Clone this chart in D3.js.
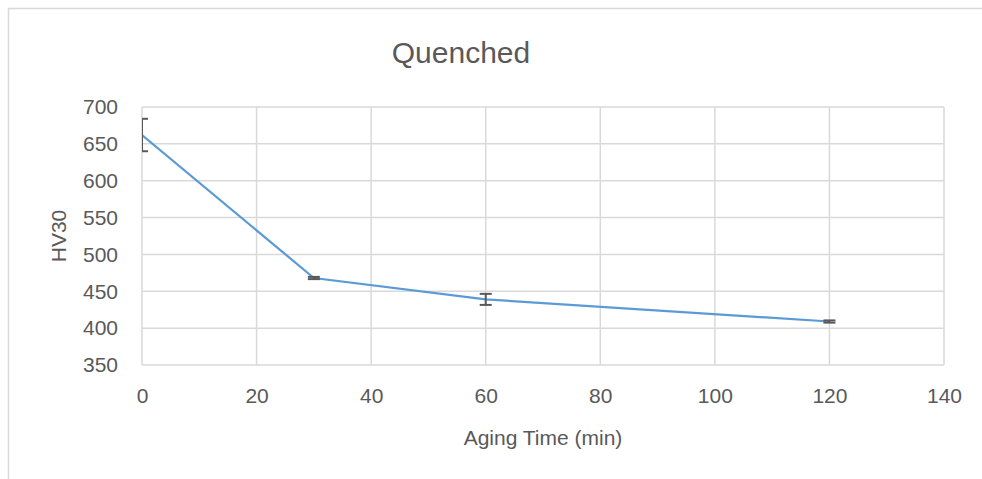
<!DOCTYPE html>
<html>
<head>
<meta charset="utf-8">
<script src="https://cdn.jsdelivr.net/npm/d3@7"></script>
<style>
  html, body { margin: 0; padding: 0; background: #fff; }
  svg { display: block; }
  text { font-family: "Liberation Sans", Arial, sans-serif; fill: #595959; }
</style>
</head>
<body>
<svg id="chart" width="982" height="479"></svg>
<script>
const title = "Quenched";
const xLabel = "Aging Time (min)";
const yLabel = "HV30";
const agingTime = [0, 30, 60, 120];
const hardness = [662, 468, 439, 409];
const errorPlusMinus = [22, 1.5, 7.5, 1.5];
const xTicks = [0, 20, 40, 60, 80, 100, 120, 140];
const yTicks = [350, 400, 450, 500, 550, 600, 650, 700];

const svg = d3.select("#chart");
const W = 982, H = 479;
const plot = { left: 142, right: 944, top: 107, bottom: 365 };

// outer chart border (continues beyond the visible frame)
svg.append("rect")
  .attr("x", 8.5).attr("y", 8.5)
  .attr("width", W + 10).attr("height", H + 10)
  .attr("fill", "#fff").attr("stroke", "#d9d9d9").attr("stroke-width", 1.5);

const x = d3.scaleLinear().domain([0, 140]).range([plot.left, plot.right]);
const y = d3.scaleLinear().domain([350, 700]).range([plot.bottom, plot.top]);

// gridlines
const g = svg.append("g");
g.selectAll("line.hg").data(yTicks).enter().append("line")
  .attr("x1", plot.left).attr("x2", plot.right)
  .attr("y1", d => y(d)).attr("y2", d => y(d))
  .attr("stroke", "#d9d9d9").attr("stroke-width", 1.5);
g.selectAll("line.vg").data(xTicks).enter().append("line")
  .attr("y1", plot.top).attr("y2", plot.bottom)
  .attr("x1", d => x(d)).attr("x2", d => x(d))
  .attr("stroke", "#d9d9d9").attr("stroke-width", 1.5);

// axes via d3 axes (labels only)
const yAxis = svg.append("g")
  .attr("transform", `translate(${plot.left - 24},0)`)
  .call(d3.axisLeft(y).tickValues(yTicks).tickSize(0).tickPadding(0));
yAxis.select(".domain").remove();
yAxis.selectAll("text")
  .style("font-family", '"Liberation Sans", Arial, sans-serif')
  .style("font-size", "21px").attr("fill", "#595959");

const xAxis = svg.append("g")
  .attr("transform", `translate(0,${plot.bottom + 23})`)
  .call(d3.axisBottom(x).tickValues(xTicks).tickSize(0).tickPadding(0));
xAxis.select(".domain").remove();
xAxis.selectAll("text")
  .style("font-family", '"Liberation Sans", Arial, sans-serif')
  .style("font-size", "21px").attr("fill", "#595959");

// clip for data
svg.append("clipPath").attr("id", "clip")
  .append("rect").attr("x", plot.left).attr("y", plot.top - 20)
  .attr("width", plot.right - plot.left + 20).attr("height", plot.bottom - plot.top + 40);

const data = agingTime.map((t, i) => ({ t, v: hardness[i], e: errorPlusMinus[i] }));
const dg = svg.append("g").attr("clip-path", "url(#clip)");

// series line
dg.append("path")
  .datum(data)
  .attr("fill", "none")
  .attr("stroke", "#5b9bd5")
  .attr("stroke-width", 2.2)
  .attr("d", d3.line().x(d => x(d.t)).y(d => y(d.v)));

// error bars
const eb = dg.selectAll("g.eb").data(data).enter().append("g");
const cap = 6;
eb.append("line")
  .attr("x1", d => x(d.t)).attr("x2", d => x(d.t))
  .attr("y1", d => y(d.v + d.e)).attr("y2", d => y(d.v - d.e))
  .attr("stroke", "#595959").attr("stroke-width", 2);
eb.append("line")
  .attr("x1", d => x(d.t) - cap).attr("x2", d => x(d.t) + cap)
  .attr("y1", d => y(d.v + d.e)).attr("y2", d => y(d.v + d.e))
  .attr("stroke", "#595959").attr("stroke-width", 2);
eb.append("line")
  .attr("x1", d => x(d.t) - cap).attr("x2", d => x(d.t) + cap)
  .attr("y1", d => y(d.v - d.e)).attr("y2", d => y(d.v - d.e))
  .attr("stroke", "#595959").attr("stroke-width", 2);

// title
svg.append("text")
  .attr("x", 461).attr("y", 63)
  .attr("text-anchor", "middle")
  .style("font-size", "30px")
  .text(title);

// axis titles
svg.append("text")
  .attr("x", 543).attr("y", 445)
  .attr("text-anchor", "middle")
  .style("font-size", "21px")
  .text(xLabel);

svg.append("text")
  .attr("transform", "translate(66,236) rotate(-90)")
  .attr("text-anchor", "middle")
  .style("font-size", "21px")
  .text(yLabel);
</script>
</body>
</html>
